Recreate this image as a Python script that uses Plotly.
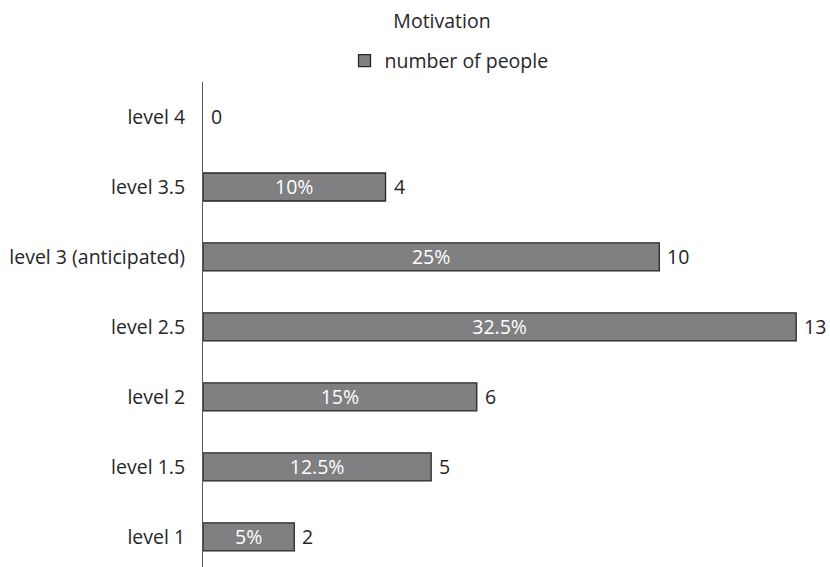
import plotly.graph_objects as go

categories = ["level 1", "level 1.5", "level 2", "level 2.5",
              "level 3 (anticipated)", "level 3.5", "level 4"]
counts = [2, 5, 6, 13, 10, 4, 0]
percents = ["5%", "12.5%", "15%", "32.5%", "25%", "10%", ""]

FONT = "Open Sans"
TXT = "#262626"
FS = 19.5

fig = go.Figure()
fig.add_trace(go.Bar(
    y=categories, x=counts, orientation="h",
    name="number of people",
    marker=dict(color="#808083",
                line=dict(color="#262626", width=[1.3 if v > 0 else 0 for v in counts])),
    text=percents, textposition="inside", insidetextanchor="middle",
    constraintext="none",
    textfont=dict(color="white", family=FONT, size=FS),
    cliponaxis=False,
))

for c, v in zip(categories, counts):
    fig.add_annotation(x=v, y=c, text=str(v), showarrow=False,
                       xanchor="left", xshift=6,
                       font=dict(family=FONT, size=FS, color=TXT))

fig.update_layout(
    width=830, height=567,
    margin=dict(l=203, r=11, t=82, b=0),
    paper_bgcolor="white", plot_bgcolor="white",
    font=dict(family=FONT, size=FS, color=TXT),
    bargap=0.6,
    uniformtext=dict(mode=False),
    title=dict(text="Motivation", x=442/830, xref="container", xanchor="center",
               y=1 - 21/567, yref="container", yanchor="middle",
               font=dict(family=FONT, size=FS, color=TXT)),
    showlegend=True,
    legend=dict(orientation="h", x=449/830, xref="container", xanchor="center",
                y=1 - 61/567, yref="container", yanchor="middle",
                font=dict(family=FONT, size=FS, color=TXT)),
    xaxis=dict(range=[0, 13.5], visible=False, fixedrange=True),
    yaxis=dict(range=[-0.43, 6.5], showline=True, linecolor="#595959", linewidth=1,
               showgrid=False, zeroline=False, ticks="", ticklabelstandoff=13,
               tickfont=dict(family=FONT, size=FS, color=TXT)),
)

fig.write_html("out.html")
